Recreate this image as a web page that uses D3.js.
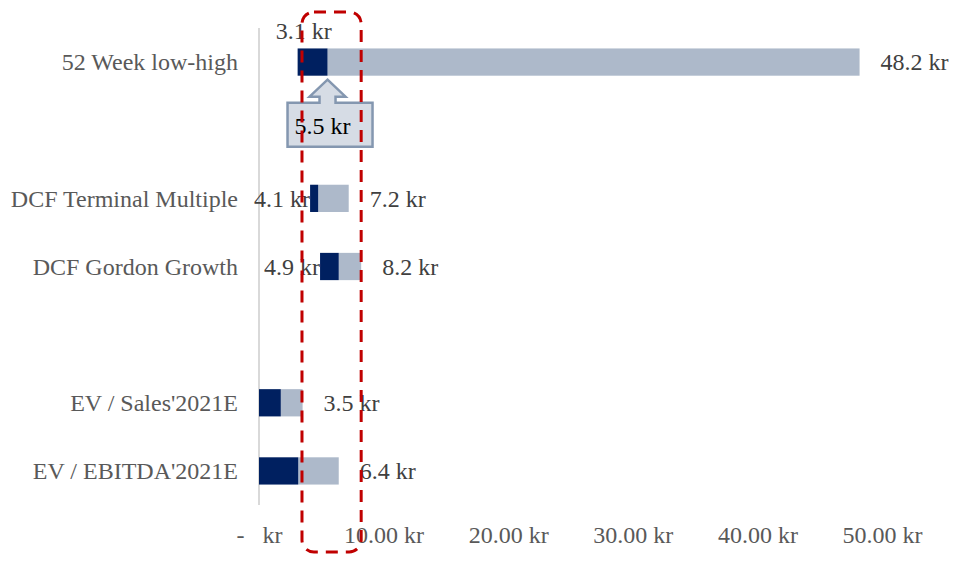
<!DOCTYPE html>
<html>
<head>
<meta charset="utf-8">
<script src="https://cdn.jsdelivr.net/npm/d3@7"></script>
<style>
body { margin: 0; background: #fff; }
text { font-family: "Liberation Serif", "Times New Roman", serif; }
</style>
</head>
<body>
<div id="canvas"></div>
<script>
// ----------------------------------------------------------
// DATA -----------------------------------------------------
// ----------------------------------------------------------
var categories = ["52 Week low-high", "", "DCF Terminal Multiple", "DCF Gordon Growth", "", "EV / Sales'2021E", "EV / EBITDA'2021E"];
var value_low = [3.1, null, 4.1, 4.9, null, 0, 0];
var value_mid = [5.5, null, 4.75, 6.4, null, 1.75, 3.15];
var value_high = [48.2, null, 7.2, 8.2, null, 3.5, 6.4];
var tick_values = [0, 10, 20, 30, 40, 50];
var tick_labels = ["-   kr", "10.00 kr", "20.00 kr", "30.00 kr", "40.00 kr", "50.00 kr"];
var current_price = 5.5;
var focus_range = [3.45, 8.2];

var data_input = categories.map((c, i) => ({
  id: i,
  term: c,
  low: value_low[i],
  mid: value_mid[i],
  high: value_high[i]
}));

var data_set = {
  container_width: 954,
  container_height: 563,
  plot_left: 259,
  plot_right: 882,
  plot_top: 28,
  plot_bottom: 505,
  color_dark: "#002060",
  color_light: "#ADB9CA",
  color_text: "#404040",
  color_axis_text: "#595959",
  color_axis: "#D9D9D9",
  color_callout: "#D6DCE5",
  color_callout_line: "#8497B0",
  color_focus: "#C00000",
  font_size: 24
};

// ----------------------------------------------------------
// STRUCTURE ------------------------------------------------
// ----------------------------------------------------------
var container = d3.select("#canvas").append("svg")
  .attr("width", data_set.container_width)
  .attr("height", data_set.container_height)
  .style("background-color", "#fff");

var gfx_group = container.append("g").attr("class", "gfx_group");
var text_group = container.append("g").attr("class", "text_group");
var note_group = container.append("g").attr("class", "note_group");

// scales
var xScale = d3.scaleLinear()
  .domain([0, 50])
  .range([data_set.plot_left, data_set.plot_right]);

var yScale = d3.scaleBand()
  .domain(data_input.map((d) => d.id))
  .range([data_set.plot_top, data_set.plot_bottom])
  .paddingInner(0.6)
  .paddingOuter(0.3);

var bw = yScale.bandwidth();
var rows = data_input.filter((d) => d.high != null);

// ----------------------------------------------------------
// AXES -----------------------------------------------------
// ----------------------------------------------------------
// vertical category axis line
gfx_group.append("line")
  .attr("x1", xScale(0)).attr("x2", xScale(0))
  .attr("y1", data_set.plot_top).attr("y2", data_set.plot_bottom)
  .attr("stroke", data_set.color_axis)
  .attr("stroke-width", 2);

// bottom tick labels (no line)
var x_axis = gfx_group.append("g")
  .attr("class", "gfx_scale_bottom")
  .attr("transform", `translate(0, ${data_set.plot_bottom})`)
  .call(d3.axisBottom(xScale)
    .tickValues(tick_values)
    .tickSize(0)
    .tickPadding(0)
    .tickFormat((d, i) => tick_labels[i]));
x_axis.select(".domain").remove();
x_axis.selectAll("text")
  .attr("y", 30)
  .attr("dy", "0.35em")
  .style("font-family", "Liberation Serif, serif")
  .style("font-size", data_set.font_size + "px")
  .style("white-space", "pre")
  .attr("fill", data_set.color_axis_text);

// category labels
text_group.selectAll(".cat_label")
  .data(rows)
  .enter()
  .append("text")
  .attr("class", "cat_label")
  .attr("x", xScale(0) - 21)
  .attr("y", (d) => yScale(d.id) + bw / 2)
  .attr("dy", "0.35em")
  .attr("text-anchor", "end")
  .attr("font-size", data_set.font_size)
  .attr("fill", data_set.color_axis_text)
  .text((d) => d.term);

// ----------------------------------------------------------
// BARS -----------------------------------------------------
// ----------------------------------------------------------
var gfx_bar = gfx_group.selectAll(".gfx_bar")
  .data(rows)
  .enter()
  .append("g")
  .attr("class", "gfx_bar");

gfx_bar.append("rect")
  .attr("x", (d) => xScale(d.mid))
  .attr("y", (d) => yScale(d.id))
  .attr("width", (d) => xScale(d.high) - xScale(d.mid))
  .attr("height", bw)
  .attr("fill", data_set.color_light);

gfx_bar.append("rect")
  .attr("x", (d) => xScale(d.low))
  .attr("y", (d) => yScale(d.id))
  .attr("width", (d) => xScale(d.mid) - xScale(d.low))
  .attr("height", bw)
  .attr("fill", data_set.color_dark);

// high value labels
text_group.selectAll(".high_label")
  .data(rows)
  .enter()
  .append("text")
  .attr("class", "high_label")
  .attr("x", (d) => xScale(d.high) + 21)
  .attr("y", (d) => yScale(d.id) + bw / 2)
  .attr("dy", "0.35em")
  .attr("font-size", data_set.font_size)
  .attr("fill", data_set.color_text)
  .text((d) => d.high + " kr");

// low value labels (first row above bar, others left of bar)
text_group.selectAll(".low_label")
  .data(rows.filter((d) => d.low > 0))
  .enter()
  .append("text")
  .attr("class", "low_label")
  .attr("x", (d, i) => i == 0 ? xScale(d.low) + 6 : xScale(d.low))
  .attr("y", (d, i) => i == 0 ? yScale(d.id) - 9 : yScale(d.id) + bw / 2)
  .attr("dy", (d, i) => i == 0 ? "0" : "0.35em")
  .attr("text-anchor", (d, i) => i == 0 ? "middle" : "end")
  .attr("font-size", data_set.font_size)
  .attr("fill", data_set.color_text)
  .text((d) => d.low + " kr");

// ----------------------------------------------------------
// NOTES ----------------------------------------------------
// ----------------------------------------------------------
// current price callout (arrow up to first bar)
var cx = xScale(current_price);
var tip = yScale(0) + bw + 4;
var callout_path = [
  [cx, tip], [cx + 18, tip + 17], [cx + 8, tip + 17], [cx + 8, tip + 23],
  [cx + 45, tip + 23], [cx + 45, tip + 67], [cx - 40, tip + 67], [cx - 40, tip + 23],
  [cx - 8, tip + 23], [cx - 8, tip + 17], [cx - 18, tip + 17]
];
note_group.append("path")
  .attr("d", d3.line()(callout_path) + "Z")
  .attr("fill", data_set.color_callout)
  .attr("stroke", data_set.color_callout_line)
  .attr("stroke-width", 2.5)
  .attr("stroke-linejoin", "miter");

note_group.append("text")
  .attr("x", cx - 33)
  .attr("y", tip + 46)
  .attr("dy", "0.35em")
  .attr("font-size", data_set.font_size)
  .attr("fill", "#000")
  .text(current_price + " kr");

// red dashed focus box
note_group.append("rect")
  .attr("x", xScale(focus_range[0]))
  .attr("y", 12)
  .attr("width", xScale(focus_range[1]) - xScale(focus_range[0]))
  .attr("height", 540)
  .attr("rx", 12)
  .attr("fill", "none")
  .attr("stroke", data_set.color_focus)
  .attr("stroke-width", 3)
  .attr("stroke-dasharray", "12 8");
</script>
</body>
</html>
